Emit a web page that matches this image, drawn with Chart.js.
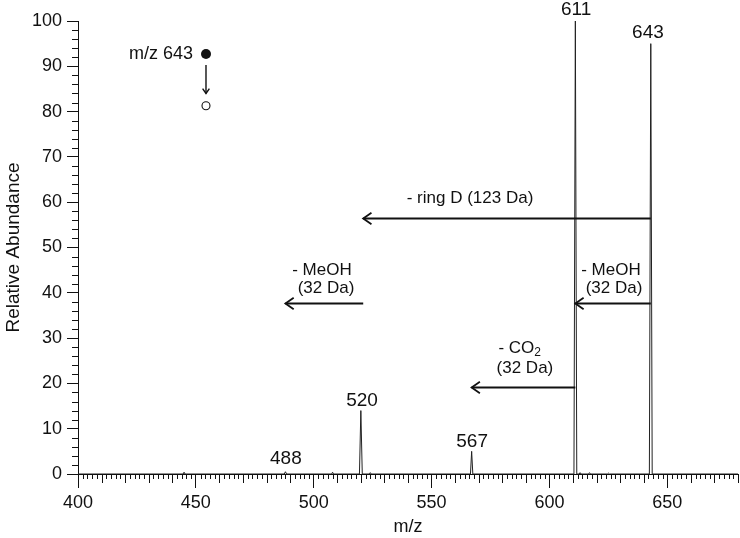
<!DOCTYPE html>
<html>
<head>
<meta charset="utf-8">
<script src="https://cdn.jsdelivr.net/npm/chart.js@4/dist/chart.umd.min.js"></script>
<style>
  html, body { margin: 0; padding: 0; background: #fff; }
  #wrap { width: 740px; height: 538px; position: relative; }
</style>
</head>
<body>
<div id="wrap"><canvas id="msChart"></canvas></div>
<script>
// ==================== DATA ====================

// spectrum trace, m/z and relative abundance (%)
const mzValues = [400, 444.6, 445, 445.4, 487.5, 488, 488.5, 507.6, 508, 508.4,
    519.4, 520, 520.6, 523.6, 524, 524.4, 566.5, 567, 567.5, 610.4, 611, 611.6,
    612.6, 613, 613.4, 616.6, 617, 617.4, 624.6, 625, 625.4, 642.4, 643, 643.6, 680];
const abundanceValues = [0, 0, 0.4, 0, 0, 0.5, 0, 0, 0.4, 0,
    0, 14, 0, 0, 0.3, 0, 0, 5, 0, 0, 100, 0,
    0, 0.3, 0, 0, 0.3, 0, 0, 0.2, 0, 0, 95, 0, 0];

// peak labels
const peakLabels = ['611', '643', '520', '567', '488'];
const peakLabelMz = [611.3, 641.8, 520.5, 567.2, 488.2];
const peakLabelAbund = [102.4, 97.4, 16.1, 7.1, 3.3];

// neutral loss arrows (from m/z -> to m/z at a given height)
const lossFrom = [643, 643, 521, 611];
const lossTo = [521, 611, 488, 567];
const lossAbund = [56.5, 37.7, 37.7, 19.2];

const xTickStep = 50;
const yTickStep = 10;

const FONT = '"Liberation Sans", Arial, Helvetica, sans-serif';
const INK = '#111';

// ==================== HELPERS ====================

function drawArrow(ctx, x1, y1, x2, y2, head) {
    ctx.beginPath();
    ctx.moveTo(x1, y1);
    ctx.lineTo(x2, y2);
    ctx.stroke();
    const ang = Math.atan2(y2 - y1, x2 - x1);
    ctx.beginPath();
    ctx.moveTo(x2 - head * Math.cos(ang - 0.6), y2 - head * Math.sin(ang - 0.6));
    ctx.lineTo(x2, y2);
    ctx.lineTo(x2 - head * Math.cos(ang + 0.6), y2 - head * Math.sin(ang + 0.6));
    ctx.stroke();
}

function text(ctx, str, x, y, size, align) {
    ctx.font = size + 'px ' + FONT;
    ctx.textAlign = align || 'center';
    ctx.textBaseline = 'middle';
    ctx.fillText(str, x, y);
}

// ==================== PLUGINS ====================

// minor ticks on both axes
const minorTicks = {
    id: 'minorTicks',
    afterDraw(chart) {
        const ctx = chart.ctx;
        const xs = chart.scales.x, ys = chart.scales.y;
        const area = chart.chartArea;
        ctx.save();
        ctx.strokeStyle = INK;
        ctx.lineWidth = 1;
        ctx.beginPath();
        for (let v = xs.min; v <= xs.max; v += 2) {
            if (v % 50 === 0) continue;
            const px = Math.round(xs.getPixelForValue(v)) + 0.5;
            const len = (v % 10 === 0) ? 9 : 5;
            ctx.moveTo(px, area.bottom);
            ctx.lineTo(px, area.bottom + len);
        }
        for (let v = ys.min; v <= ys.max; v += 2) {
            if (v % 10 === 0) continue;
            const py = Math.round(ys.getPixelForValue(v)) + 0.5;
            ctx.moveTo(area.left, py);
            ctx.lineTo(area.left - 6, py);
        }
        ctx.stroke();
        ctx.restore();
    }
};

// peak labels, loss arrows, legend
const annotations = {
    id: 'annotations',
    afterDatasetsDraw(chart) {
        const ctx = chart.ctx;
        const xs = chart.scales.x, ys = chart.scales.y;
        const X = v => xs.getPixelForValue(v);
        const Y = v => ys.getPixelForValue(v);
        ctx.save();
        ctx.fillStyle = INK;
        ctx.strokeStyle = INK;

        // peak labels
        peakLabels.forEach((lbl, i) => {
            text(ctx, lbl, X(peakLabelMz[i]), Y(peakLabelAbund[i]), 19);
        });

        // arrows
        ctx.lineWidth = 1.8;
        lossFrom.forEach((from, i) => {
            const y = Math.round(Y(lossAbund[i])) + 0.5;
            drawArrow(ctx, X(from), y, X(lossTo[i]), y, 10);
        });

        // arrow texts
        text(ctx, '- ring D (123 Da)', X(566.3), Y(60.9), 17);
        text(ctx, '- MeOH', X(503.5), Y(45.0), 17);
        text(ctx, '(32 Da)', X(505.2), Y(41.1), 17);
        text(ctx, '- MeOH', X(626.1), Y(45.0), 17);
        text(ctx, '(32 Da)', X(627.4), Y(41.1), 17);
        // - CO2 with subscript
        ctx.font = '17px ' + FONT;
        const coW = ctx.measureText('- CO').width;
        ctx.font = '12px ' + FONT;
        const subW = ctx.measureText('2').width;
        const coLeft = X(587.4) - (coW + subW) / 2;
        text(ctx, '- CO', coLeft, Y(27.8), 17, 'left');
        text(ctx, '2', coLeft + coW, Y(27.8) + 5, 12, 'left');
        text(ctx, '(32 Da)', X(589.6), Y(23.4), 17);

        // precursor legend
        text(ctx, 'm/z 643', X(448.8), Y(92.7), 18, 'right');
        const cx = X(454.3);
        ctx.beginPath();
        ctx.arc(cx, Y(92.7), 5, 0, Math.PI * 2);
        ctx.fill();
        ctx.lineWidth = 1.4;
        drawArrow(ctx, cx, Y(90.3), cx, Y(84.0), 6);
        ctx.lineWidth = 1.1;
        ctx.beginPath();
        ctx.arc(cx, Y(81.3), 4, 0, Math.PI * 2);
        ctx.stroke();

        ctx.restore();
    }
};

// ==================== CHART ====================

const points = mzValues.map((mz, i) => ({ x: mz, y: abundanceValues[i] }));

new Chart(document.getElementById('msChart'), {
    type: 'line',
    data: {
        datasets: [{
            data: points,
            borderColor: '#222',
            borderWidth: 1,
            pointRadius: 0,
            tension: 0,
            fill: false
        }]
    },
    options: {
        responsive: true,
        maintainAspectRatio: false,
        animation: false,
        layout: { padding: { top: 21, right: 2, left: 0, bottom: 0 } },
        plugins: {
            legend: { display: false },
            tooltip: { enabled: false }
        },
        scales: {
            x: {
                type: 'linear',
                min: 400,
                max: 680,
                afterBuildTicks: s => {
                    s.ticks = s.ticks.filter(t => t.value % xTickStep === 0);
                },
                afterFit: s => { s.height = 64; },
                ticks: {
                    stepSize: xTickStep,
                    color: INK,
                    padding: 4,
                    maxRotation: 0,
                    font: { family: FONT, size: 18 }
                },
                grid: {
                    drawOnChartArea: false,
                    drawTicks: true,
                    tickLength: 14,
                    tickColor: INK,
                    tickWidth: 1
                },
                border: { display: true, color: INK, width: 1 },
                title: {
                    display: true,
                    text: 'm/z',
                    color: INK,
                    align: 'center',
                    padding: { top: 0, bottom: 0 },
                    font: { family: FONT, size: 18 }
                }
            },
            y: {
                min: 0,
                max: 100,
                afterFit: s => { s.width = 78; },
                ticks: {
                    stepSize: yTickStep,
                    color: INK,
                    padding: 5,
                    font: { family: FONT, size: 18 }
                },
                grid: {
                    drawOnChartArea: false,
                    drawTicks: true,
                    tickLength: 11,
                    tickColor: INK,
                    tickWidth: 1
                },
                border: { display: true, color: INK, width: 1 },
                title: {
                    display: true,
                    text: 'Relative Abundance',
                    color: INK,
                    padding: { top: 2, bottom: 0 },
                    font: { family: FONT, size: 19 }
                }
            }
        }
    },
    plugins: [minorTicks, annotations]
});
</script>
</body>
</html>
